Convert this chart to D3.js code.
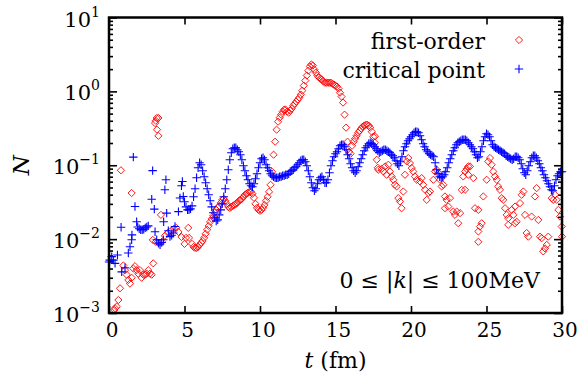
<!DOCTYPE html>
<html>
<head>
<meta charset="utf-8">
<script src="https://d3js.org/d3.v7.min.js"></script>
<style>
  body { margin: 0; background: #fff; }
</style>
</head>
<body>
<div id="chart"></div>
<script>

// tick values
var xTicks = [0, 5, 10, 15, 20, 25, 30];
var yDecades = [1e-3, 1e-2, 1e-1, 1e0, 1e1];
var yExponents = ["−3", "−2", "−1", "0", "1"];

// series labels
var seriesNames = ["first-order", "critical point"];

// critical point, early scattered points [t (fm), N]
var criticalEarly = [
  [0.0,0.0049],[0.05,0.0052],[0.18,0.0058],[0.29,0.0052],[0.4,0.0047],[0.56,0.0061],
  [0.8,0.0145],[0.84,0.0036],[1.06,0.0041],[1.28,0.0065],[1.39,0.0079],[1.5,0.0098],
  [1.52,0.0114],[1.61,0.129],[1.72,0.0276],[1.83,0.0172],[1.9,0.0146],[2.0,0.0138],
  [2.1,0.0134],[2.2,0.0134],[2.3,0.0136],[2.4,0.0142],[2.5,0.0146],[2.6,0.0151],
  [2.83,0.0347],[2.89,0.0845],[3.0,0.0255],[3.05,0.0126],[3.16,0.0098],[3.27,0.0088],
  [3.38,0.0084],[3.49,0.0090],[3.6,0.0098],[3.62,0.0172],[3.7,0.0465],[3.77,0.0636],
  [3.82,0.0225],[3.93,0.0130],[4.04,0.0108],[4.15,0.0113],[4.26,0.0121],[4.37,0.0148],
  [4.6,0.0236],[4.7,0.0360],[4.8,0.0527],[4.86,0.0603],[4.92,0.0378]
];

// critical point, dense part [t (fm), N]
var criticalLate = [
  [5.0,0.0320],[5.1,0.0273],[5.2,0.0249],[5.3,0.0249],[5.4,0.0257],[5.5,0.0282],[5.6,0.0374],[5.7,0.0480],[5.8,0.0677],[5.9,0.0925],
  [6.0,0.1081],[6.1,0.1016],[6.2,0.0842],[6.3,0.0698],[6.4,0.0579],[6.5,0.0480],[6.6,0.0398],[6.7,0.0330],[6.8,0.0273],[6.9,0.0227],
  [7.0,0.0194],[7.1,0.0176],[7.2,0.0182],[7.3,0.0213],[7.4,0.0249],[7.5,0.0300],[7.6,0.0374],[7.7,0.0480],[7.8,0.0636],[7.9,0.0869],
  [8.0,0.1188],[8.1,0.1478],[8.2,0.1674],[8.3,0.1727],[8.4,0.1727],[8.5,0.1623],[8.6,0.1525],[8.7,0.1388],[8.8,0.1188],[8.9,0.0985],
  [9.0,0.0842],[9.1,0.0720],[9.2,0.0636],[9.3,0.0561],[9.4,0.0527],[9.5,0.0511],[9.6,0.0561],[9.7,0.0656],[9.8,0.0767],[9.9,0.0925],
  [10.0,0.1081],[10.1,0.1225],[10.2,0.1264],[10.3,0.1188],[10.4,0.1016],[10.5,0.0925],[10.6,0.0842],[10.7,0.0767],[10.8,0.0720],[10.9,0.0698],
  [11.0,0.0677],[11.1,0.0677],[11.2,0.0677],[11.3,0.0698],[11.4,0.0698],[11.5,0.0720],[11.6,0.0720],[11.7,0.0743],[11.8,0.0743],[11.9,0.0767],
  [12.0,0.0816],[12.1,0.0842],[12.2,0.0869],[12.3,0.0925],[12.4,0.0954],[12.5,0.1016],[12.6,0.1081],[12.7,0.1151],[12.8,0.1188],[12.9,0.1188],
  [13.0,0.1116],[13.1,0.0985],[13.2,0.0842],[13.3,0.0698],[13.4,0.0579],[13.5,0.0495],[13.6,0.0451],[13.7,0.0480],[13.8,0.0561],[13.9,0.0636],
  [14.0,0.0677],[14.1,0.0698],[14.2,0.0636],[14.3,0.0579],[14.4,0.0579],[14.5,0.0636],[14.6,0.0791],[14.7,0.0985],[14.8,0.1151],[14.9,0.1304],
  [15.0,0.1432],[15.1,0.1525],[15.2,0.1674],[15.3,0.1838],[15.4,0.1897],[15.5,0.1897],[15.6,0.1782],[15.7,0.1623],[15.8,0.1388],[15.9,0.1225],
  [16.0,0.1048],[16.1,0.0925],[16.2,0.0842],[16.3,0.0791],[16.4,0.0842],[16.5,0.0954],[16.6,0.1081],[16.7,0.1225],[16.8,0.1388],[16.9,0.1573],
  [17.0,0.1727],[17.1,0.1838],[17.2,0.1957],[17.3,0.2019],[17.4,0.1957],[17.5,0.1897],[17.6,0.1782],[17.7,0.1674],[17.8,0.1573],[17.9,0.1478],
  [18.0,0.1525],[18.1,0.1573],[18.2,0.1623],[18.3,0.1623],[18.4,0.1573],[18.5,0.1525],[18.6,0.1478],[18.7,0.1388],[18.8,0.1345],[18.9,0.1264],
  [19.0,0.1151],[19.1,0.1048],[19.2,0.0985],[19.3,0.1116],[19.4,0.1304],[19.5,0.1573],[19.6,0.1782],[19.7,0.1957],[19.8,0.2149],[19.9,0.2287],
  [20.0,0.2434],[20.1,0.2590],[20.2,0.2759],[20.3,0.2847],[20.4,0.2847],[20.5,0.2759],[20.6,0.2512],[20.7,0.2217],[20.8,0.1957],[20.9,0.1782],
  [21.0,0.1623],[21.1,0.1525],[21.2,0.1432],[21.3,0.1388],[21.4,0.1345],[21.5,0.1304],[21.6,0.1081],[21.7,0.0869],[21.8,0.0767],[21.9,0.0698],
  [22.0,0.0677],[22.1,0.0698],[22.2,0.0743],[22.3,0.0816],[22.4,0.0925],[22.5,0.1081],[22.6,0.1225],[22.7,0.1388],[22.8,0.1573],[22.9,0.1727],
  [23.0,0.1897],[23.1,0.2019],[23.2,0.2083],[23.3,0.2149],[23.4,0.2217],[23.5,0.2217],[23.6,0.2217],[23.7,0.2149],[23.8,0.2019],[23.9,0.1897],
  [24.0,0.1782],[24.1,0.1674],[24.2,0.1525],[24.3,0.1388],[24.4,0.1264],[24.5,0.1304],[24.6,0.1525],[24.7,0.1782],[24.8,0.2149],[24.9,0.2434],
  [25.0,0.2674],[25.1,0.2590],[25.2,0.2434],[25.3,0.2149],[25.4,0.1897],[25.5,0.1782],[25.6,0.1727],[25.7,0.1674],[25.8,0.1623],[25.9,0.1573],
  [26.0,0.1525],[26.1,0.1478],[26.2,0.1432],[26.3,0.1345],[26.4,0.1304],[26.5,0.1264],[26.6,0.1225],[26.7,0.1188],[26.8,0.1225],[26.9,0.1304],
  [27.0,0.1304],[27.1,0.1264],[27.2,0.1188],[27.3,0.1048],[27.4,0.0897],[27.5,0.0791],[27.6,0.0743],[27.7,0.0842],[27.8,0.0985],[27.9,0.1116],
  [28.0,0.1264],[28.1,0.1345],[28.2,0.1345],[28.3,0.1264],[28.4,0.1151],[28.5,0.1048],[28.6,0.0925],[28.7,0.0842],[28.8,0.0743],[28.9,0.0677],
  [29.0,0.0616],[29.1,0.0561],[29.2,0.0511],[29.3,0.0465],[29.4,0.0451],[29.5,0.0527],[29.6,0.0636],[29.7,0.0720],[29.8,0.0767],[29.9,0.0816],
  [30.0,0.0816]
];

// first-order, early scattered points [t (fm), N]
var firstOrderEarly = [
  [0.35,0.00110],[0.4,0.00116],[0.51,0.00122],[0.62,0.00150],[0.73,0.00216],[0.79,0.0855],
  [0.95,0.0044],[1.06,0.0038],[1.17,0.0033],[1.28,0.0028],[1.39,0.0025],[1.5,0.0030],
  [1.5,0.0421],[1.61,0.0040],[1.72,0.0043],[1.83,0.0038],[1.94,0.0034],[2.05,0.0038],
  [2.16,0.0030],[2.27,0.0033],[2.38,0.0033],[2.5,0.0034],[2.6,0.0038],[2.71,0.0034],
  [2.83,0.0033],[2.93,0.0047],[3.05,0.372],[3.1,0.40],[3.16,0.436],[3.27,0.436],
  [3.18,0.303],[3.27,0.250],[3.44,0.0213],[5.25,0.0142]
];

// first-order, dense part [t (fm), N]
var firstOrderMid = [
  [2.9,0.00977],[3.1,0.00918],[3.3,0.00890],[3.5,0.00918],[3.7,0.0111],
  [3.9,0.0122],[4.1,0.0129],[4.3,0.0138],[4.45,0.0142],[4.6,0.0125],[4.8,0.0107],
  [5.0,0.00862],[5.1,0.0104],[5.3,0.0104],[5.5,0.00862],[5.6,0.00785],[5.7,0.00761],[5.8,0.00761],
  [5.9,0.00785],[6.0,0.00836],[6.1,0.00890],[6.2,0.00947],[6.3,0.0104],[6.4,0.0118],[6.5,0.0134],[6.6,0.0151],[6.7,0.0171],[6.8,0.0188],
  [6.9,0.0206],[7.0,0.0227],[7.1,0.0249],[7.2,0.0265],[7.3,0.0282],[7.4,0.0310],[7.5,0.0340],[7.6,0.0351],[7.7,0.0330],[7.8,0.0300],
  [7.9,0.0273],[8.0,0.0265],[8.1,0.0273],[8.2,0.0282],[8.3,0.0291],[8.4,0.0300],[8.5,0.0310],[8.6,0.0330],[8.7,0.0340],[8.8,0.0351],
  [8.9,0.0374],[9.0,0.0398],[9.1,0.0411],[9.2,0.0424],[9.3,0.0437],[9.4,0.0437],[9.5,0.0411],[9.6,0.0362],[9.7,0.0300],[9.8,0.0265],
  [9.9,0.0249],[10.0,0.0241],[10.1,0.0249],[10.2,0.0265],[10.3,0.0291],[10.4,0.0330],[10.5,0.0374],[10.6,0.0437],[10.7,0.0544],[10.8,0.0816],
  [10.9,0.1388],[11.0,0.2083],[11.1,0.303],[11.2,0.389],[11.3,0.441],[11.4,0.484],[11.5,0.532],[11.6,0.566],[11.7,0.566],[11.8,0.532],
  [11.9,0.516],[12.0,0.549],[12.1,0.584],[12.2,0.640],[12.3,0.682],[12.4,0.725],[12.5,0.773],[12.6,0.823],[12.7,0.904],[12.8,1.024],
  [12.9,1.197],[13.0,1.40],[13.1,1.64],[13.2,1.91],[13.3,2.17],[13.4,2.31],[13.5,2.24],[13.6,1.97],[13.7,1.80],[13.8,1.64],
  [13.9,1.54],[14.0,1.49],[14.1,1.44],[14.2,1.36],[14.3,1.31],[14.4,1.31],[14.5,1.31],[14.6,1.31],[14.7,1.31],[14.8,1.27],
  [14.9,1.235],[15.0,1.197],[15.1,1.16],[15.2,1.09],[15.3,0.96],[15.4,0.85],[15.5,0.705],[15.6,0.484],[15.7,0.323],[15.8,0.2083],
  [15.9,0.1525],[16.0,0.1432],[16.1,0.1838],[16.2,0.2083],[16.3,0.2287],[16.4,0.2512],[16.5,0.2759],[16.6,0.2937],[16.7,0.313],[16.8,0.333],
  [16.9,0.344],[17.0,0.354],[17.1,0.354],[17.2,0.344],[17.3,0.323],[17.4,0.2847],[17.5,0.2434],[17.6,0.2019],[17.7,0.1623],[17.8,0.0925]
];

// first-order, late scattered points [t (fm), N]
var firstOrderLate = [
  [17.62,0.246],[17.73,0.1188],[17.83,0.0869],[18.06,0.0895],[18.17,0.0823],[18.28,0.0963],[18.39,0.0743],[18.5,0.1016],
  [18.61,0.0823],[18.72,0.0705],[18.83,0.0636],[18.94,0.0544],[19.05,0.0516],[19.16,0.0359],[19.27,0.0323],[19.38,0.0262],
  [19.49,0.0441],[19.6,0.0743],[19.72,0.1126],[19.82,0.1252],[19.93,0.107],[20.05,0.0916],[20.15,0.0823],[20.26,0.0705],
  [20.38,0.0636],[20.6,0.0603],[20.71,0.067],[20.81,0.0544],[20.93,0.0465],[21.04,0.034],[21.15,0.042],[21.26,0.0441],
  [21.48,0.0636],[21.59,0.0823],[21.7,0.0869],[21.81,0.0783],[21.92,0.0636],[22.03,0.0516],[22.14,0.0544],[22.25,0.0378],
  [22.36,0.034],[22.25,0.0262],[22.47,0.0276],[22.58,0.0359],[22.8,0.0236],[22.91,0.0213],[23.03,0.0236],[23.13,0.0164],
  [23.25,0.0225],[23.36,0.0465],[23.46,0.0705],[23.58,0.0823],[23.69,0.0895],[23.79,0.0963],[23.58,0.0465],[23.79,0.0743],
  [23.91,0.0963],[24.13,0.067],[24.24,0.0262],[24.46,0.0249],[24.57,0.0148],[24.46,0.0127],[24.46,0.0092],[24.68,0.0164],
  [24.79,0.0378],[25.01,0.0636],[25.12,0.1126],[25.23,0.1252],[25.34,0.1016],[25.45,0.0823],[25.56,0.0705],[25.68,0.0636],
  [25.78,0.0516],[25.89,0.0465],[26.01,0.0359],[26.11,0.034],[26.23,0.0262],[26.34,0.0213],[26.44,0.0156],[26.44,0.0192],
  [26.67,0.0249],[26.78,0.0213],[26.89,0.0276],[26.89,0.0164],[27.0,0.0172],[27.22,0.0307],[27.33,0.0398],[27.44,0.0441],
  [27.55,0.0213],[27.66,0.0121],[27.77,0.0108],[27.99,0.0202],[28.21,0.0378],[28.32,0.049],[28.43,0.0182],[28.54,0.0108],
  [28.66,0.0103],[28.76,0.00682],[28.87,0.0075],[28.99,0.00836],[29.09,0.0108],[29.32,0.0359],[29.42,0.034],[29.54,0.0398],
  [29.65,0.034],[29.76,0.0249],[29.87,0.0202],[29.98,0.0148],[30.0,0.0108]
];

var firstOrder = firstOrderEarly.concat(firstOrderMid, firstOrderLate);
var criticalPoint = criticalEarly.concat(criticalLate);

var serif = "DejaVu Serif";

// chart geometry
var margin = {top: 17.5, right: 19, bottom: 66, left: 109},
    width = 581 - margin.left - margin.right,
    height = 379 - margin.top - margin.bottom;

var svg_root = d3.select("#chart").append("svg")
    .attr("width", 581)
    .attr("height", 379)
    .style("font-family", serif);

var svg = svg_root.append("g")
    .attr("transform", "translate(" + margin.left + "," + margin.top + ")");

var x = d3.scaleLinear().domain([0, 30]).range([0, width]);
var y = d3.scaleLog().domain([1e-3, 1e1]).range([height, 0]);

// minor ticks on log axis
var yMinor = [];
yDecades.slice(0, -1).forEach(function(d) {
  for (var k = 2; k <= 9; k++) yMinor.push(d * k);
});

// ticks, all pointing inwards
function tickAxis(axis, transform, values, size) {
  var g = svg.append("g")
    .attr("transform", transform)
    .call(axis.tickValues(values).tickSize(size).tickFormat(""));
  g.select(".domain").remove();
  g.selectAll("line").attr("stroke", "#000").attr("stroke-width", 1.6);
  return g;
}

tickAxis(d3.axisBottom(x), "translate(0," + height + ")", xTicks, -7);
tickAxis(d3.axisTop(x), "translate(0,0)", xTicks, -7);
tickAxis(d3.axisLeft(y), "translate(0,0)", yDecades, -8);
tickAxis(d3.axisLeft(y), "translate(0,0)", yMinor, -4);
tickAxis(d3.axisRight(y), "translate(" + width + ",0)", yDecades, -8);
tickAxis(d3.axisRight(y), "translate(" + width + ",0)", yMinor, -4);

// x tick labels
svg.selectAll(".xlabel")
  .data(xTicks)
  .enter().append("text")
  .attr("class", "xlabel")
  .attr("x", function(d) { return x(d) + 3; })
  .attr("y", height + 24)
  .attr("text-anchor", "middle")
  .style("font-family", serif)
  .style("font-size", "20px")
  .text(function(d) { return d; });

// y tick labels with superscripts
var ylab = svg.selectAll(".ylabel")
  .data(yDecades)
  .enter().append("text")
  .attr("class", "ylabel")
  .attr("x", -9)
  .attr("y", function(d) { return y(d) + 9; })
  .attr("text-anchor", "end")
  .style("font-family", serif)
  .style("font-size", "21px");
ylab.append("tspan").text("10");
ylab.append("tspan")
  .attr("dy", -10)
  .style("font-size", "14px")
  .text(function(d, i) { return yExponents[i]; });

// axis titles
var xt = svg.append("text")
  .attr("x", x(15))
  .attr("y", height + 55)
  .attr("text-anchor", "middle")
  .style("font-family", serif)
  .style("font-size", "22px");
xt.append("tspan").style("font-style", "italic").text("t");
xt.append("tspan").text(" (fm)");

svg.append("text")
  .attr("transform", "translate(-80," + y(0.1) + ") rotate(-90)")
  .attr("text-anchor", "middle")
  .style("font-family", serif)
  .style("font-size", "23px")
  .style("font-style", "italic")
  .text("N");

// markers
var diamond = "M0,-3.6L3.6,0L0,3.6L-3.6,0Z";
var plus = "M-4.2,0H4.2M0,-4.2V4.2";

svg.selectAll(".fo")
  .data(firstOrder)
  .enter().append("path")
  .attr("class", "fo")
  .attr("d", diamond)
  .attr("transform", function(d) { return "translate(" + x(d[0]) + "," + y(d[1]) + ")"; })
  .attr("fill", "none")
  .attr("stroke", "#ff0000")
  .attr("stroke-width", 0.9);

svg.selectAll(".cp")
  .data(criticalPoint)
  .enter().append("path")
  .attr("class", "cp")
  .attr("d", plus)
  .attr("transform", function(d) { return "translate(" + x(d[0]) + "," + y(d[1]) + ")"; })
  .attr("fill", "none")
  .attr("stroke", "#0000ff")
  .attr("stroke-width", 1.1);

// legend
var legend = svg.append("g");
[diamond, plus].forEach(function(sym, i) {
  legend.append("text")
    .attr("x", 376)
    .attr("y", 31 + i * 29)
    .attr("text-anchor", "end")
    .style("font-family", serif)
    .style("font-size", "22px")
    .text(seriesNames[i]);
  legend.append("path")
    .attr("d", sym)
    .attr("transform", "translate(410," + (22.5 + i * 29) + ")")
    .attr("fill", "none")
    .attr("stroke", i == 0 ? "#ff0000" : "#0000ff")
    .attr("stroke-width", i == 0 ? 0.9 : 1.1);
});

// annotation
var ann = svg.append("text")
  .attr("x", 431)
  .attr("y", 270)
  .attr("text-anchor", "end")
  .style("font-family", serif)
  .style("font-size", "22px");
ann.append("tspan").text("0 ≤ |");
ann.append("tspan").style("font-style", "italic").text("k");
ann.append("tspan").text("| ≤ 100MeV");

// frame
svg.append("rect")
  .attr("width", width)
  .attr("height", height)
  .attr("fill", "none")
  .attr("stroke", "#000")
  .attr("stroke-width", 2.5);

</script>
</body>
</html>
